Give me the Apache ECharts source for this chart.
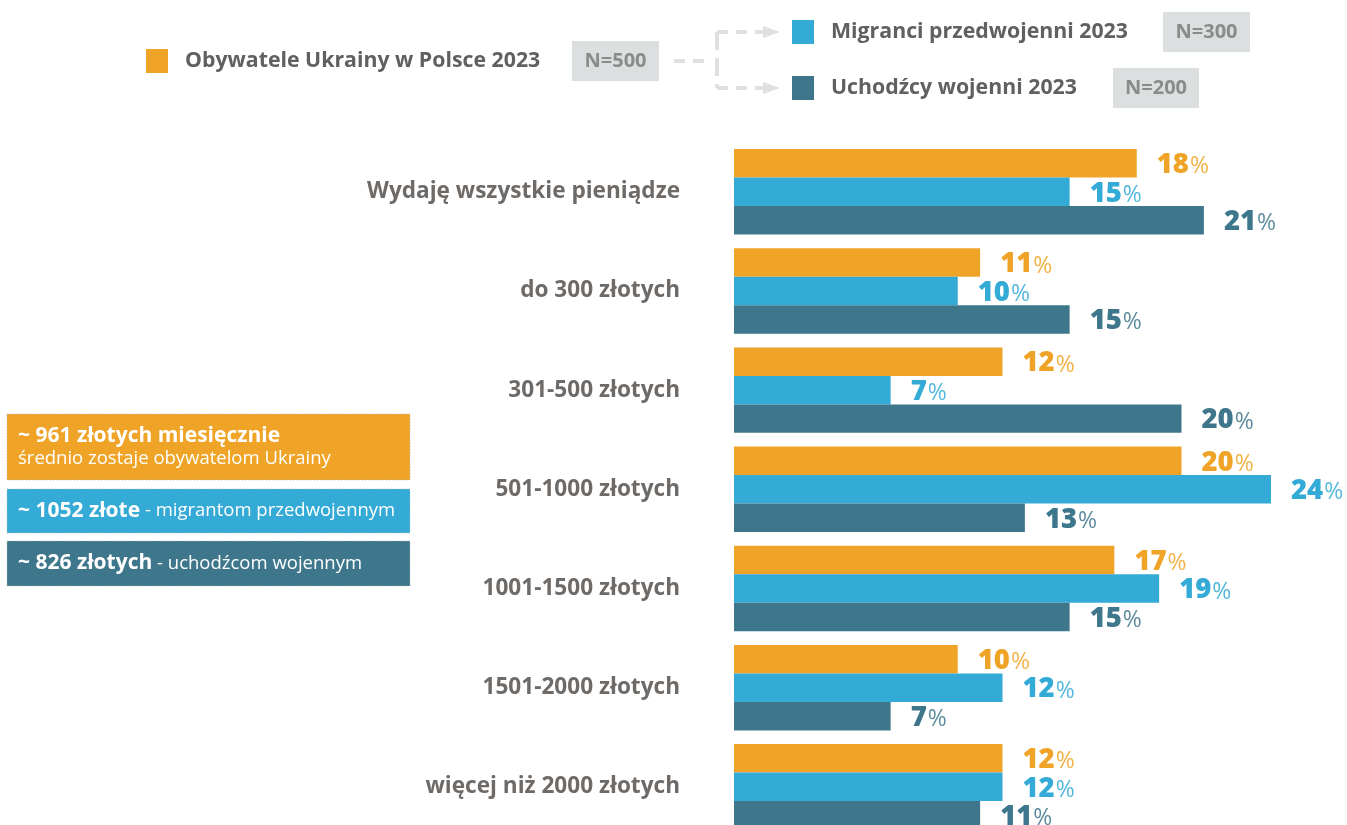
<!DOCTYPE html>
<html>
<head>
<meta charset="utf-8">
<script src="https://cdn.jsdelivr.net/npm/echarts@6/dist/echarts.min.js"></script>
<style>
  html, body { margin: 0; padding: 0; background: #ffffff; overflow: hidden; width: 1347px; height: 825px; }
  #chart { width: 1347px; height: 850px; }
</style>
</head>
<body>
<div id="chart"></div>
<script>
// Monthly money left over, share of respondents (%)
const categories = [
  'Wydaję wszystkie pieniądze',
  'do 300 złotych',
  '301-500 złotych',
  '501-1000 złotych',
  '1001-1500 złotych',
  '1501-2000 złotych',
  'więcej niż 2000 złotych'
];
const seriesNames = ['Obywatele Ukrainy w Polsce 2023', 'Migranci przedwojenni 2023', 'Uchodźcy wojenni 2023'];
const sampleSizes = ['N=500', 'N=300', 'N=200'];
const citizens = [18, 11, 12, 20, 17, 10, 12];
const preWarMigrants = [15, 10, 7, 24, 19, 12, 12];
const warRefugees = [21, 15, 20, 13, 15, 7, 11];
const averageLines = [
  ['~ 961 złotych miesięcznie', 'średnio zostaje obywatelom Ukrainy'],
  ['~ 1052 złote', ' - migrantom przedwojennym'],
  ['~ 826 złotych', ' - uchodźcom wojennym']
];

const colors = ['#EFA428', '#34AAD6', '#3E778B'];
const FONT = '"Open Sans", "Noto Sans", sans-serif';
const textGray = '#5f6060';

function barSeries(name, data, color) {
  return {
    name: name,
    type: 'bar',
    data: data,
    barGap: '0%',
    barCategoryGap: '13.8%',
    itemStyle: { color: color },
    label: {
      show: true,
      position: 'right',
      distance: 20,
      offset: [0, 2],
      formatter: p => '{n|' + p.value + '}{p|%}',
      rich: {
        n: { color: color, fontFamily: FONT, fontWeight: 800, fontSize: 27.5 },
        p: { color: color, fontFamily: FONT, fontWeight: 400, fontSize: 23, padding: [3, 0, 0, 1], opacity: 0.85 }
      }
    },
    silent: true,
    animation: false
  };
}

const graphics = [];

// legend: square, name, sample-size tag
function legendItem(sqX, cy, color, name, tagX, tagW, tag) {
  graphics.push({ type: 'rect', shape: { x: sqX, y: cy - 12, width: 22, height: 24 }, style: { fill: color } });
  graphics.push({ type: 'text', x: sqX + 39, y: cy, style: { text: name, fill: textGray, font: 'bold 21.3px ' + FONT, textVerticalAlign: 'middle' } });
  graphics.push({ type: 'rect', shape: { x: tagX, y: cy - 20, width: tagW, height: 40 }, style: { fill: '#DCDFE0' } });
  graphics.push({ type: 'text', x: tagX + tagW / 2, y: cy, style: { text: tag, fill: '#8a8c8c', font: 'bold 20px ' + FONT, textAlign: 'center', textVerticalAlign: 'middle' } });
}
legendItem(146, 61, colors[0], seriesNames[0], 572, 87, sampleSizes[0]);
legendItem(792, 32, colors[1], seriesNames[1], 1163, 87, sampleSizes[1]);
legendItem(792, 88, colors[2], seriesNames[2], 1113, 86, sampleSizes[2]);

// dashed connector with arrows
const dashStyle = { stroke: '#E0E0E0', lineWidth: 4, lineDash: [11, 8], fill: null };
graphics.push({ type: 'polyline', shape: { points: [[674, 61], [707, 61]] }, style: dashStyle });
graphics.push({ type: 'polyline', shape: { points: [[717, 32], [717, 88]] }, style: { stroke: '#E0E0E0', lineWidth: 4, lineDash: [18, 8], fill: null } });
graphics.push({ type: 'polyline', shape: { points: [[717, 32], [764, 32]] }, style: dashStyle });
graphics.push({ type: 'polyline', shape: { points: [[717, 88], [764, 88]] }, style: dashStyle });
[32, 88].forEach(y => {
  graphics.push({ type: 'polygon', shape: { points: [[763, y - 6], [780, y], [763, y + 6]] }, style: { fill: '#E0E0E0' } });
});

// averages panel
const boxes = [
  { y: 414, h: 66 },
  { y: 489, h: 44 },
  { y: 541, h: 45 }
];
boxes.forEach((b, i) => {
  graphics.push({ type: 'rect', shape: { x: 7, y: b.y, width: 403, height: b.h }, style: { fill: colors[i], stroke: '#b9b9b9', lineWidth: 1, lineDash: [1, 2] } });
});
graphics.push({ type: 'text', x: 18, y: 436, style: { text: averageLines[0][0], fill: '#fff', font: 'bold 21px ' + FONT, textVerticalAlign: 'middle' } });
graphics.push({ type: 'text', x: 18, y: 459, style: { text: averageLines[0][1], fill: '#fff', font: '18.5px ' + FONT, textVerticalAlign: 'middle' } });
[1, 2].forEach(i => {
  const cy = boxes[i].y + boxes[i].h / 2;
  graphics.push({
    type: 'text', x: 18, y: cy,
    style: {
      text: '{b|' + averageLines[i][0] + '}{r|' + averageLines[i][1] + '}',
      textVerticalAlign: 'middle',
      rich: {
        b: { fill: '#fff', color: '#fff', fontFamily: FONT, fontWeight: 'bold', fontSize: 21 },
        r: { fill: '#fff', color: '#fff', fontFamily: FONT, fontWeight: 'normal', fontSize: 18.5 }
      }
    }
  });
});

const chart = echarts.init(document.getElementById('chart'), null, { renderer: 'canvas' });
chart.setOption({
  animation: false,
  backgroundColor: '#ffffff',
  grid: { left: 734, top: 142.2, width: 537, height: 694.2, containLabel: false },
  xAxis: {
    type: 'value', min: 0, max: 24, show: false,
    splitLine: { show: false }
  },
  yAxis: {
    type: 'category',
    data: categories,
    inverse: true,
    axisLine: { show: false },
    axisTick: { show: false },
    axisLabel: {
      margin: 54,
      color: '#6e6a67',
      fontFamily: FONT,
      fontWeight: 'bold',
      fontSize: 22.6
    }
  },
  series: [
    barSeries(seriesNames[0], citizens, colors[0]),
    barSeries(seriesNames[1], preWarMigrants, colors[1]),
    barSeries(seriesNames[2], warRefugees, colors[2])
  ],
  graphic: { elements: graphics }
});
</script>
</body>
</html>
